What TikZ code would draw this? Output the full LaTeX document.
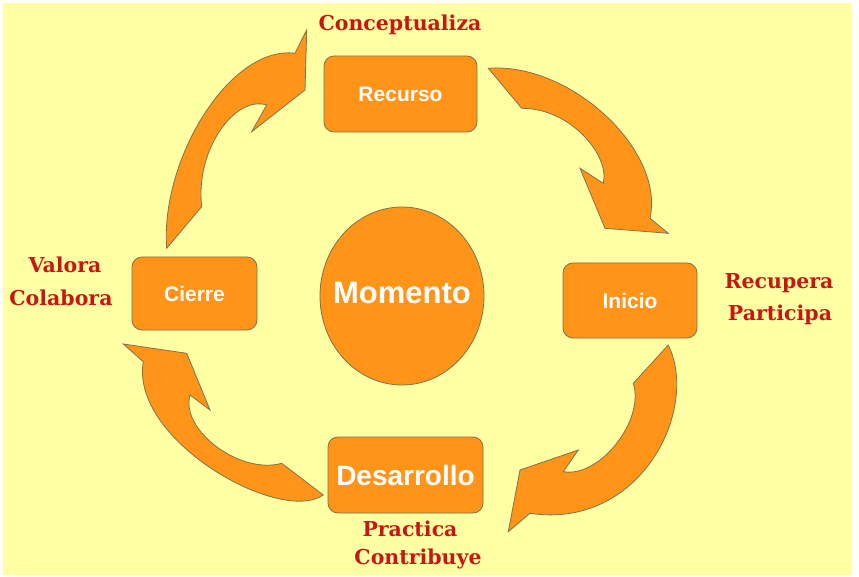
\documentclass[tikz,border=0pt]{standalone}
\usepackage{fontspec}
\setmainfont{DejaVu Serif}
\newfontfamily\boxfont{Liberation Sans}
\usetikzlibrary{shapes.geometric}
\definecolor{bgyellow}{RGB}{255,255,163}
\definecolor{orangefill}{RGB}{255,148,24}
\definecolor{edgecol}{RGB}{125,115,80}
\definecolor{labelred}{RGB}{200,22,18}
\begin{document}
\begin{tikzpicture}[x=1pt,y=-1pt,
  boxnode/.style={draw=edgecol, line width=0.8pt, fill=orangefill, rounded corners=10pt,
    text=white, font=\boxfont\bfseries\fontsize{21}{24}\selectfont, inner sep=0pt},
  blockarrow/.style={draw=edgecol, line width=0.8pt, fill=orangefill, line join=miter},
  lbl/.style={text=labelred, font=\bfseries\fontsize{20.5}{24}\selectfont, inner sep=0pt}]
\useasboundingbox (0,0) rectangle (859,577);
\fill[white] (0,0) rectangle (859,577);
\fill[bgyellow] (3,3) rectangle (852,575);

% centre
\node[ellipse, draw=edgecol, line width=0.8pt, fill=orangefill, minimum width=164pt, minimum height=178pt,
  inner sep=0pt] (momento) at (402,296) {};
\node[text=white, font=\boxfont\bfseries\fontsize{31}{34}\selectfont, inner sep=0pt] (momentotext) at (402,293) {Momento};

% boxes
\node[boxnode, minimum width=153pt, minimum height=76pt] (recurso) at (400.5,94) {Recurso};
\node[boxnode, minimum width=125pt, minimum height=73pt] (cierre) at (194.5,293.5) {Cierre};
\node[boxnode, minimum width=134pt, minimum height=75pt] (inicio) at (630,300.5) {Inicio};
\node[boxnode, minimum width=155pt, minimum height=76pt, font=\boxfont\bfseries\fontsize{28}{30}\selectfont] (desarrollo) at (405.5,475) {Desarrollo};

% labels
\node[lbl] (lconc) at (400,25) {Conceptualiza};
\node[lbl] (lval) at (65,265) {Valora};
\node[lbl] (lcol) at (61,298) {Colabora};
\node[lbl] (lrec) at (779,283) {Recupera};
\node[lbl] (lpar) at (780,315) {Participa};
\node[lbl] (lprac) at (410,529) {Practica};
\node[lbl] (lcon) at (418,559) {Contribuye};

% arrow 1: Cierre -> Recurso
\path[blockarrow] (166.7,248.3)
  .. controls (160,160) and (230,45) .. (295,53.3)
  -- (306.7,30) -- (305,90) -- (251.7,131.7) -- (266.7,105)
  .. controls (235,95) and (195,150) .. (201.7,206.7)
  -- cycle;

% arrow 2: Recurso -> Inicio
\path[blockarrow] (488.3,68.3)
  .. controls (570,62) and (665,150) .. (650,218.3)
  -- (668.3,233.3) -- (605,228.3) -- (580,168.3) -- (603.3,183.3)
  .. controls (610,155) and (570,108) .. (521.7,108.3)
  -- cycle;

% arrow 3: Inicio -> Desarrollo
\path[blockarrow] (668.3,345)
  .. controls (700,410) and (640,530) .. (530,513.3)
  -- (508.3,531.7) -- (520,470) -- (578.3,450) -- (563.3,471.7)
  .. controls (600,478) and (645,420) .. (633.3,383.3)
  -- cycle;

% arrow 4: Desarrollo -> Cierre
\path[blockarrow] (323.3,495)
  .. controls (280,525) and (130,440) .. (143.3,361.7)
  -- (123.3,344) -- (186.7,353.3) -- (210,410) -- (190,395)
  .. controls (180,430) and (240,475) .. (281.7,463.3)
  -- cycle;
\end{tikzpicture}
\end{document}
